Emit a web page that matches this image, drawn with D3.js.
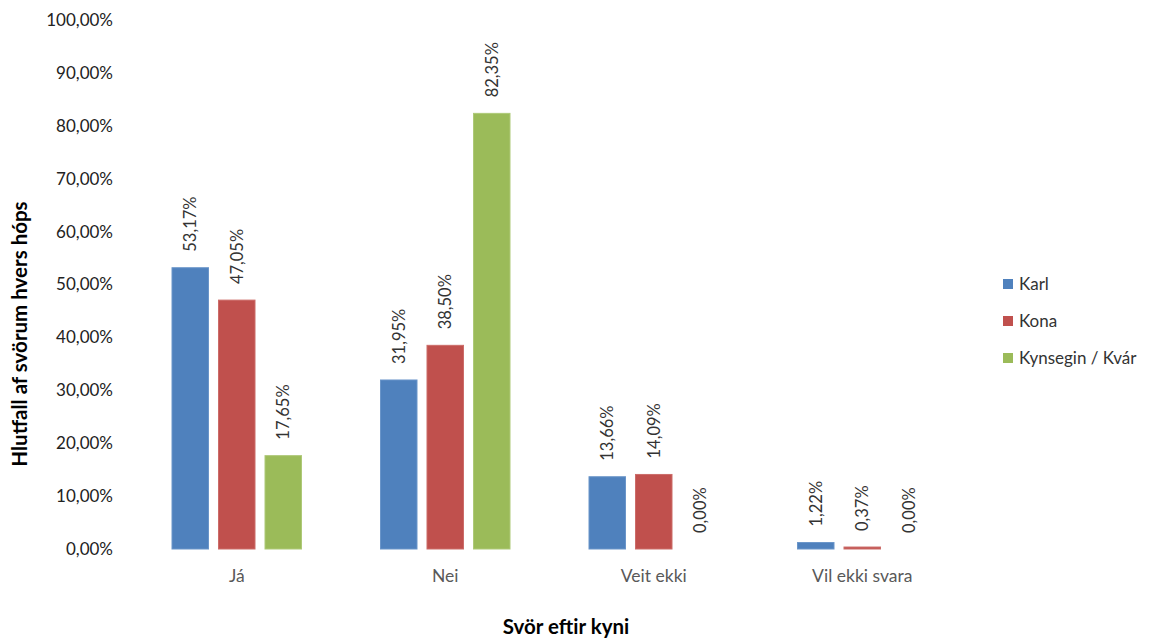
<!DOCTYPE html>
<html>
<head>
<meta charset="utf-8">
<script src="https://cdn.jsdelivr.net/npm/d3@7"></script>
<style>
  body { margin: 0; background: #fff; }
  svg { display: block; font-family: Lato, "Open Sans", sans-serif; }
</style>
</head>
<body>
<svg id="chart" width="1151" height="640"></svg>
<script>
// Survey answers broken down by gender
const categories = ["Já", "Nei", "Veit ekki", "Vil ekki svara"];
const seriesNames = ["Karl", "Kona", "Kynsegin / Kvár"];
const karl = [53.17, 31.95, 13.66, 1.22];
const kona = [47.05, 38.50, 14.09, 0.37];
const kynsegin = [17.65, 82.35, 0.00, 0.00];
const seriesValues = [karl, kona, kynsegin];
const seriesColors = ["#4F81BD", "#C0504D", "#9BBB59"];
const seriesStroke = ["#6a95c9", "#cc6c69", "#aec978"];
const yTicks = [0, 10, 20, 30, 40, 50, 60, 70, 80, 90, 100];

const fmt = v => v.toFixed(2).replace(".", ",") + "%";

const svg = d3.select("#chart");

const plot = { left: 132.5, right: 966.5, top: 20, bottom: 549 };

const x0 = d3.scaleBand().domain(categories).range([plot.left, plot.right]).padding(0);
const clusterW = 129.5;
const x1 = d3.scaleBand().domain(seriesNames)
  .range([(x0.bandwidth() - clusterW) / 2, (x0.bandwidth() + clusterW) / 2])
  .paddingInner(10 / 46.5).paddingOuter(0);
const y = d3.scaleLinear().domain([0, 100]).range([plot.bottom, plot.top]);

// Y axis tick labels (no axis line, no gridlines)
const yAxis = d3.axisLeft(y).tickValues(yTicks).tickFormat(d => fmt(d)).tickSize(0).tickPadding(0);
const yg = svg.append("g").attr("transform", "translate(113,0)").call(yAxis);
yg.select(".domain").remove();
yg.selectAll("text").attr("font-size", 17).attr("fill", "#222").attr("font-family", "Lato, sans-serif");

// Category labels
const xAxis = d3.axisBottom(x0).tickSize(0).tickPadding(0);
const xg = svg.append("g").attr("transform", `translate(0,${plot.bottom})`).call(xAxis);
xg.select(".domain").remove();
xg.selectAll("text").attr("font-size", 17.5).attr("fill", "#595959")
  .attr("dy", null).attr("y", 33).attr("font-family", "Lato, sans-serif");

// Bars
const rows = [];
categories.forEach((c, ci) => {
  seriesNames.forEach((s, si) => rows.push({ cat: c, series: s, si, value: seriesValues[si][ci] }));
});

const groups = svg.append("g");
groups.selectAll("rect").data(rows).join("rect")
  .attr("x", d => x0(d.cat) + x1(d.series))
  .attr("width", x1.bandwidth())
  .attr("y", d => y(d.value))
  .attr("height", d => y(0) - y(d.value))
  .attr("fill", d => seriesColors[d.si])
  .attr("stroke", d => d.value > 0 ? seriesStroke[d.si] : "none")
  .attr("stroke-width", 1);

// Rotated value labels above each bar
groups.selectAll("text.val").data(rows).join("text")
  .attr("class", "val")
  .attr("transform", d => `translate(${x0(d.cat) + x1(d.series) + x1.bandwidth() / 2},${y(d.value) - 16}) rotate(-90)`)
  .attr("dy", "0.36em")
  .attr("text-anchor", "start")
  .attr("font-size", 16.5)
  .attr("fill", "#333")
  .text(d => fmt(d.value));

// Axis titles
svg.append("text")
  .attr("transform", "translate(20,334) rotate(-90)")
  .attr("dy", "0.36em")
  .attr("text-anchor", "middle")
  .attr("font-size", 20.5).attr("font-weight", "bold").attr("fill", "#000")
  .text("Hlutfall af svörum hvers hóps");

svg.append("text")
  .attr("x", 566).attr("y", 634)
  .attr("text-anchor", "middle")
  .attr("font-size", 20.5).attr("font-weight", "bold").attr("fill", "#000")
  .text("Svör eftir kyni");

// Legend
const legend = svg.append("g").attr("transform", "translate(1003,284)");
const li = legend.selectAll("g").data(seriesNames).join("g")
  .attr("transform", (d, i) => `translate(0,${i * 37})`);
li.append("rect").attr("x", 0).attr("y", -5).attr("width", 10).attr("height", 10)
  .attr("fill", (d, i) => seriesColors[i]);
li.append("text").attr("x", 16).attr("dy", "0.36em")
  .attr("font-size", 17).attr("fill", "#333").text(d => d);
</script>
</body>
</html>
